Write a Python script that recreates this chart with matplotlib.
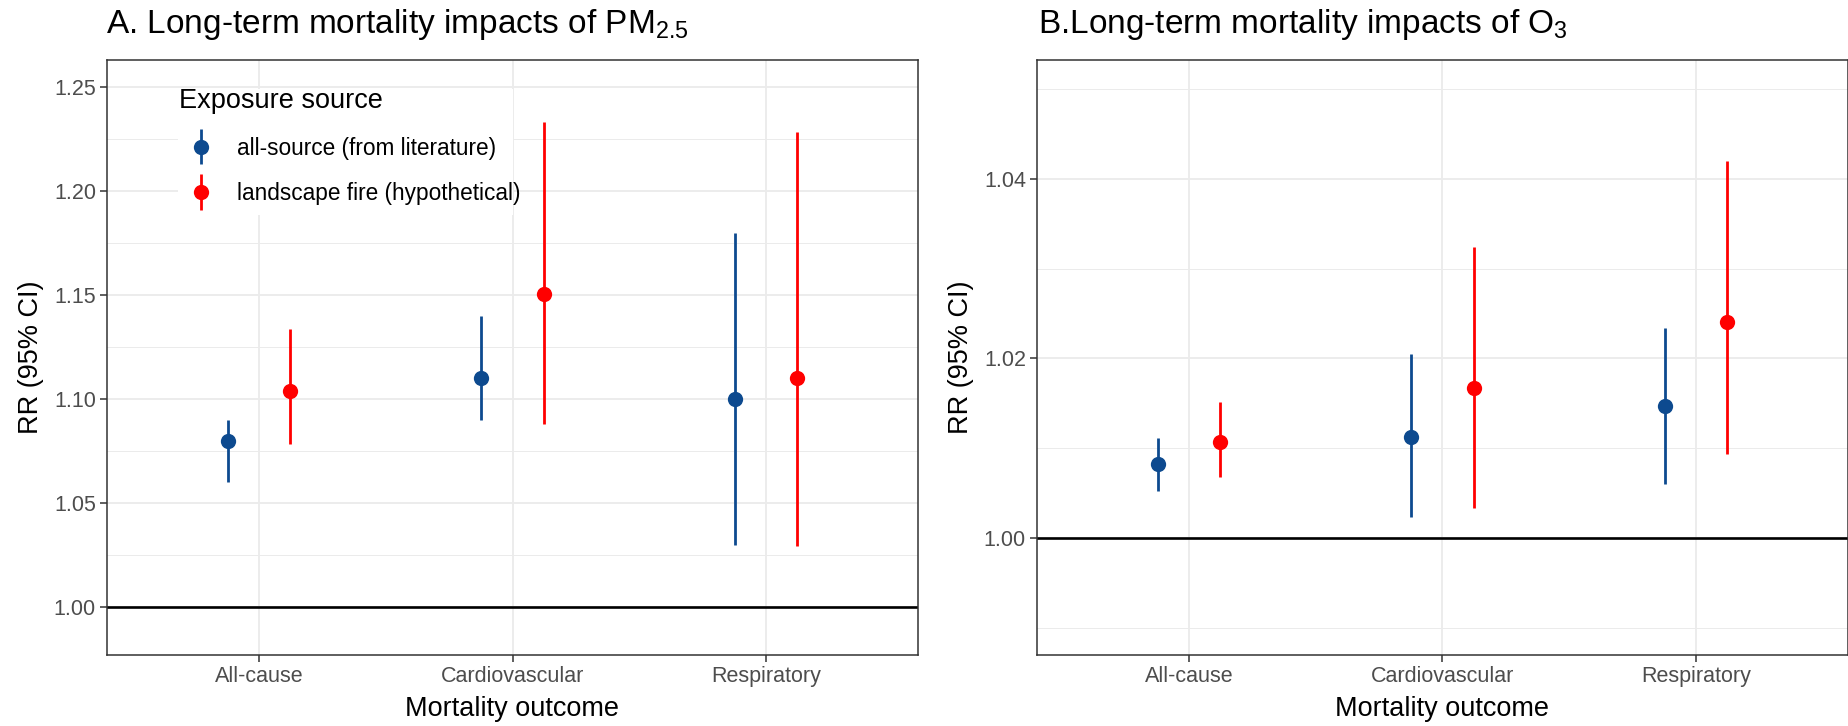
import matplotlib
matplotlib.use('Agg')
import matplotlib.pyplot as plt
import numpy as np
from matplotlib.legend_handler import HandlerErrorbar
from matplotlib.patches import Rectangle
from matplotlib.ticker import MultipleLocator, FormatStrFormatter

plt.rcParams['font.family'] = ['Liberation Sans', 'DejaVu Sans']
plt.rcParams['mathtext.fontset'] = 'custom'
plt.rcParams['mathtext.rm'] = 'Liberation Sans'
plt.rcParams['mathtext.it'] = 'Liberation Sans:italic'

# Data
outcomes = ['All-cause', 'Cardiovascular', 'Respiratory']
sources = ['all-source (from literature)', 'landscape fire (hypothetical)']

pm_lit_est = [1.080, 1.110, 1.100]
pm_lit_lo = [1.060, 1.090, 1.030]
pm_lit_hi = [1.090, 1.140, 1.180]
pm_fire_est = [1.104, 1.1505, 1.110]
pm_fire_lo = [1.0784, 1.0882, 1.0294]
pm_fire_hi = [1.1335, 1.2332, 1.2285]

o3_lit_est = [1.0082, 1.0112, 1.0147]
o3_lit_lo = [1.0053, 1.0024, 1.0060]
o3_lit_hi = [1.0111, 1.0205, 1.0234]
o3_fire_est = [1.0107, 1.0167, 1.0240]
o3_fire_lo = [1.0068, 1.0033, 1.0094]
o3_fire_hi = [1.0152, 1.0324, 1.0420]

colors = ['#0d4a8f', '#ff0000']
dodge = 0.123

W, H = 1849, 726
fig = plt.figure(figsize=(W / 100, H / 100), dpi=100)
ax1 = fig.add_axes([107 / W, 1 - 655 / H, 811 / W, 595 / H])
ax2 = fig.add_axes([1037 / W, 1 - 655 / H, 811 / W, 595 / H])


def style_axis(ax, ylim, major, minor):
    ax.set_xlim(0.4, 3.6)
    ax.set_ylim(*ylim)
    ax.set_xticks([1, 2, 3])
    ax.set_xticklabels(outcomes)
    ax.yaxis.set_major_locator(MultipleLocator(major))
    ax.yaxis.set_minor_locator(MultipleLocator(minor))
    ax.yaxis.set_major_formatter(FormatStrFormatter('%.2f'))
    ax.set_axisbelow(True)
    ax.grid(which='major', color='#ebebeb', lw=1.3)
    ax.grid(which='minor', axis='y', color='#ebebeb', lw=0.7)
    for s in ax.spines.values():
        s.set_color('#333333')
        s.set_linewidth(1.1)
    ax.tick_params(which='major', length=5, width=1.1, color='#333333',
                   labelsize=15.5, labelcolor='#4d4d4d', pad=3)
    ax.tick_params(which='minor', length=0)
    ax.set_xlabel('Mortality outcome', fontsize=19.5, labelpad=6.5)
    ax.set_ylabel('RR (95% CI)', fontsize=19.5, labelpad=7)
    ax.axhline(1.0, color='black', lw=1.9, zorder=2)


def draw_panel(ax, series):
    x = np.arange(1, len(outcomes) + 1)
    handles = []
    for i, (est, lo, hi) in enumerate(series):
        est, lo, hi = np.array(est), np.array(lo), np.array(hi)
        off = -dodge if i == 0 else dodge
        h = ax.errorbar(x + off, est, yerr=[est - lo, hi - est], fmt='o',
                        color=colors[i], ms=11, mew=0, elinewidth=2.0,
                        capsize=0, label=sources[i], zorder=3)
        handles.append(h)
    return handles


style_axis(ax1, (0.977, 1.263), 0.05, 0.025)
hs = draw_panel(ax1, [(pm_lit_est, pm_lit_lo, pm_lit_hi),
                      (pm_fire_est, pm_fire_lo, pm_fire_hi)])

style_axis(ax2, (0.987, 1.0532), 0.02, 0.01)
draw_panel(ax2, [(o3_lit_est, o3_lit_lo, o3_lit_hi),
                 (o3_fire_est, o3_fire_lo, o3_fire_hi)])

# Legend inside panel A, white box only behind the keys and labels
ax1.add_patch(Rectangle((0.0875, 0.7395), 0.4131, 0.2118,
                        transform=ax1.transAxes, facecolor='white',
                        edgecolor='none', zorder=1))
leg = ax1.legend(handles=hs, title='Exposure source', loc='upper left',
                 bbox_to_anchor=(0.066, 0.9826), fontsize=16.3,
                 title_fontsize=19.5, alignment='left', frameon=False,
                 borderpad=0.3, handlelength=2.0,
                 handletextpad=0.6, labelspacing=0.98,
                 handler_map={type(hs[0]): HandlerErrorbar(yerr_size=0.78)})
leg.set_zorder(5)

fig.text(106 / W, 1 - 33 / H, 'A. Long-term mortality impacts of PM$_{2.5}$',
         fontsize=24, va='baseline', ha='left')
fig.text(1038 / W, 1 - 33 / H, 'B.Long-term mortality impacts of O$_{3}$',
         fontsize=24, va='baseline', ha='left')

plt.savefig('out.png', dpi=100)
